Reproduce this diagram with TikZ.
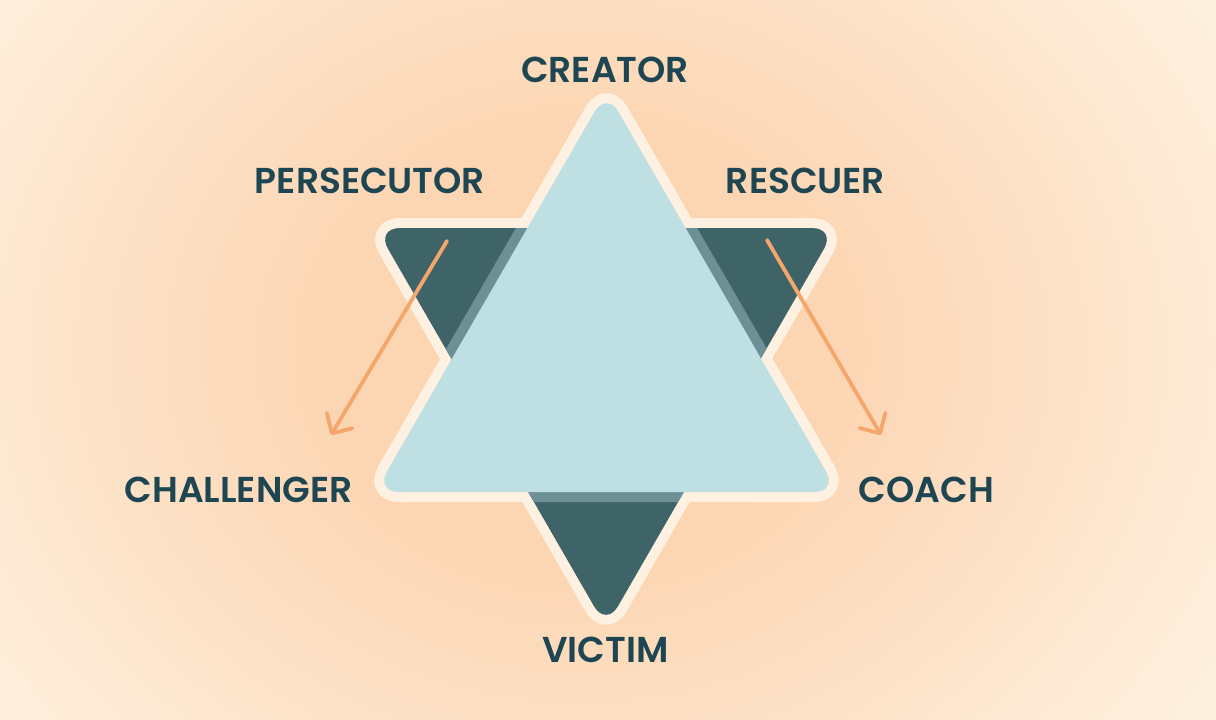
\documentclass[tikz,border=0pt]{standalone}
\usepackage{fontspec}
\newfontfamily\pop{Poppins SemiBold}
\usetikzlibrary{arrows.meta,calc}
\definecolor{bgpale}{HTML}{FEF1E0}
\definecolor{glowc}{HTML}{FCD5B2}
\definecolor{darkteal}{HTML}{3F6468}
\definecolor{lightblue}{HTML}{BFE0E3}
\definecolor{creamline}{HTML}{FFF1E2}
\definecolor{bandc}{HTML}{6C9096}
\definecolor{textc}{HTML}{1D4552}
\definecolor{arrowc}{HTML}{F5A66B}
\pgfdeclareradialshading{glow}{\pgfpoint{0bp}{0bp}}{color(0bp)=(glowc); color(6bp)=(glowc); color(19bp)=(bgpale); color(50bp)=(bgpale)}
\tikzset{
  lbl/.style={font=\pop\fontsize{36}{40}\selectfont, text=textc, inner sep=0pt, anchor=center},
  outline/.style={line width=20pt, line join=round},
  turn/.style={draw=arrowc, line width=3.8pt, line cap=round, -{Straight Barb[length=15pt,width=30pt,line cap=round,line join=round]}},
}
\begin{document}
\begin{tikzpicture}[x=1pt,y=-1pt]
\useasboundingbox (0,0) rectangle (1216,720);
\fill[bgpale] (0,0) rectangle (1216,720);
\begin{scope}
\clip (0,0) rectangle (1216,720);
\shade[shading=glow] (580,350) ellipse [x radius=1000, y radius=850];
\end{scope}
% vertices
\coordinate (UA) at (606.5,91);
\coordinate (UB) at (838,492);
\coordinate (UC) at (375,492);
\coordinate (DA) at (376,228);
\coordinate (DB) at (836,228);
\coordinate (DC) at (606,627);
\def\UpPath{($(UB)!0.5!(UC)$) -- (UC) -- (UA) -- (UB) -- cycle}
\def\DownPath{($(DA)!0.5!(DB)$) -- (DB) -- (DC) -- (DA) -- cycle}
% outlines
\draw[outline, draw=creamline, rounded corners=24pt] \DownPath;
\draw[outline, draw=creamline, rounded corners=24pt] \UpPath;
% down triangle
\fill[darkteal, rounded corners=24pt] \DownPath;
\begin{scope}
\clip[rounded corners=24pt] \DownPath;
\draw[outline, draw=bandc, rounded corners=24pt] \UpPath;
\end{scope}
% up triangle
\fill[lightblue, rounded corners=24pt] \UpPath;
% arrows
\coordinate (LS) at (447,241);
\coordinate (LE) at (331,435);
\coordinate (RS) at (767,240);
\coordinate (RE) at (881,435);
\draw[turn] (LS) -- (LE);
\draw[turn] (RS) -- (RE);
% labels
\node[lbl] (creator) at (605,69.5) {CREATOR};
\node[lbl] (persecutor) at (370,181) {PERSECUTOR};
\node[lbl] (rescuer) at (805.5,181) {RESCUER};
\node[lbl] (challenger) at (238.5,490) {CHALLENGER};
\node[lbl] (coach) at (926.5,490) {COACH};
\node[lbl] (victim) at (605.5,650) {VICTIM};
\end{tikzpicture}
\end{document}
